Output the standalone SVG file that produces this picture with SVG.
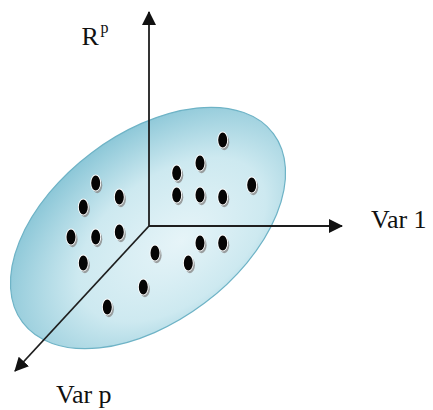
<svg xmlns="http://www.w3.org/2000/svg" width="433" height="410" viewBox="0 0 433 410">
<style>
.lbl{font-family:"Liberation Serif","Times New Roman",serif;fill:#111;}
.ax{stroke:#1e1e1e;stroke-width:1.8;fill:none;}
</style>
<defs>
<radialGradient id="plane" cx="0.52" cy="0.6" r="0.62" fx="0.56" fy="0.66">
<stop offset="0" stop-color="#e6f4f8"/>
<stop offset="0.55" stop-color="#cde9f0"/>
<stop offset="1" stop-color="#88c5d6"/>
</radialGradient>
<marker id="arr" viewBox="0 0 14 14" refX="13" refY="7" markerWidth="14" markerHeight="14" markerUnits="userSpaceOnUse" orient="auto">
<path d="M0,0 L14,7 L0,14 Z" fill="#111"/>
</marker>
<g id="dot">
<ellipse cx="1.6" cy="2.2" rx="5" ry="8" fill="#8a8a8a" opacity="0.8"/>
<ellipse cx="0" cy="0" rx="5.4" ry="8.5" fill="#ffffff"/>
<ellipse cx="0" cy="0" rx="4.5" ry="7.6" fill="#050505"/>
</g>
</defs>
<rect width="433" height="410" fill="#ffffff"/>
<g id="plane-node">
<ellipse cx="148" cy="228" rx="157" ry="94" transform="rotate(-37 148 228)" fill="url(#plane)" stroke="#6eb3c6" stroke-width="1.2"/>
</g>
<g id="connectors">
<line class="ax" x1="149" y1="226" x2="149" y2="12" marker-end="url(#arr)"/>
<line class="ax" x1="149" y1="226" x2="342" y2="226" marker-end="url(#arr)"/>
<line class="ax" x1="149" y1="226" x2="15" y2="371" marker-end="url(#arr)"/>
</g>
<g id="points">
<use href="#dot" x="95.7" y="183"/>
<use href="#dot" x="119.3" y="197"/>
<use href="#dot" x="83.3" y="207"/>
<use href="#dot" x="71" y="237"/>
<use href="#dot" x="95.7" y="237"/>
<use href="#dot" x="119.3" y="232"/>
<use href="#dot" x="83.3" y="263"/>
<use href="#dot" x="155" y="253"/>
<use href="#dot" x="143.3" y="287"/>
<use href="#dot" x="107.3" y="307"/>
<use href="#dot" x="188.3" y="263"/>
<use href="#dot" x="200" y="243"/>
<use href="#dot" x="222.7" y="243"/>
<use href="#dot" x="222.7" y="140"/>
<use href="#dot" x="200" y="163"/>
<use href="#dot" x="176.7" y="173"/>
<use href="#dot" x="176.7" y="195"/>
<use href="#dot" x="200" y="195"/>
<use href="#dot" x="222.7" y="197"/>
<use href="#dot" x="251.7" y="185"/>
</g>
<g id="label-rp">
<text class="lbl" x="81.5" y="45" font-size="26">R</text>
<text class="lbl" x="100.5" y="33" font-size="16">p</text>
</g>
<g id="label-var1">
<text class="lbl" x="371" y="228" font-size="26">Var 1</text>
</g>
<g id="label-varp">
<text class="lbl" x="56" y="403" font-size="26">Var p</text>
</g>
</svg>
